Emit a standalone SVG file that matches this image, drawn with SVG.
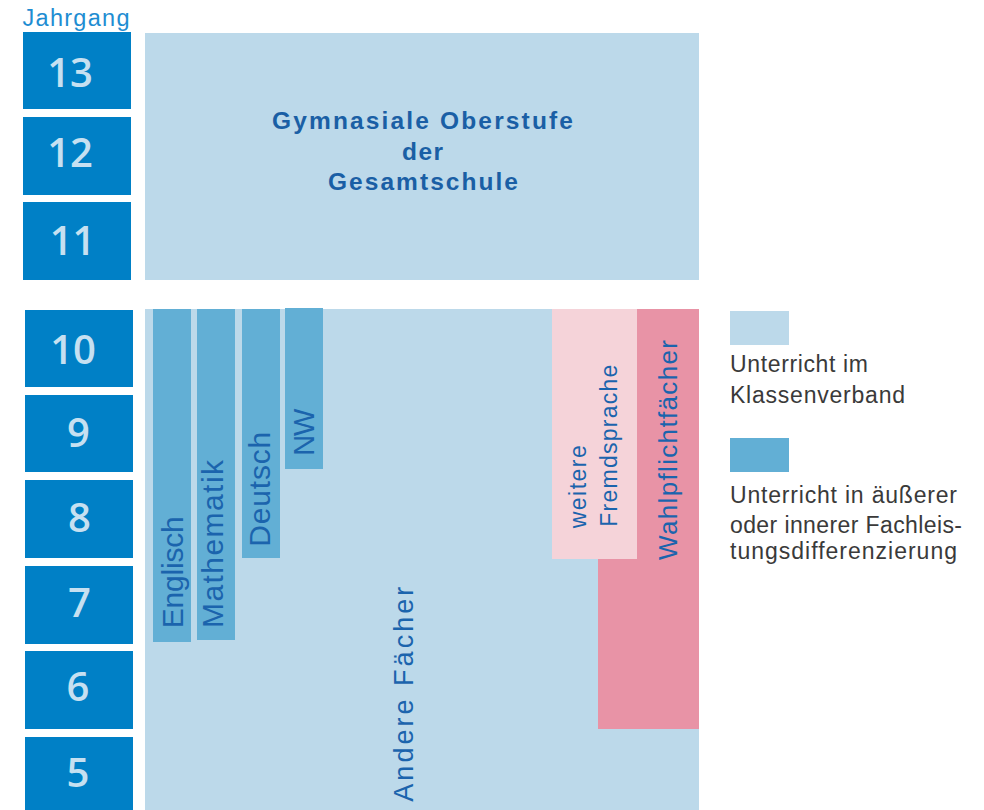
<svg xmlns="http://www.w3.org/2000/svg" width="984" height="810" viewBox="0 0 984 810">
<style>
.yr{fill:#0080c6}
.num{fill:#c6e0f1;font-family:"Open Sans","Liberation Sans",sans-serif;font-size:40px;font-weight:600;text-anchor:middle}
.lb{fill:#bcd9ea}
.mb{fill:#62afd5}
.vt{fill:#1b64ad;font-family:"Liberation Sans","DejaVu Sans",sans-serif}
.title{fill:#1a5fa5;font-family:"Liberation Sans",sans-serif;font-size:24.5px;font-weight:bold;text-anchor:middle}
.leg{fill:#3a3a3a;font-family:"Liberation Sans",sans-serif;font-size:23px}
</style>
<rect width="984" height="810" fill="#ffffff"/>
<text x="22.5" y="26" fill="#1e8dd2" font-family="Liberation Sans, sans-serif" font-size="23.5" textLength="107" lengthAdjust="spacing">Jahrgang</text>

<g id="year-13"><rect class="yr" x="23" y="32" width="108" height="77"/><text class="num" x="70" y="87">13</text></g>
<g id="year-12"><rect class="yr" x="23" y="117" width="108" height="78"/><text class="num" x="70" y="167">12</text></g>
<g id="year-11"><rect class="yr" x="23" y="202" width="108" height="78"/><text class="num" x="72.5" y="255">11</text></g>
<g id="year-10"><rect class="yr" x="25" y="310" width="108" height="77"/><text class="num" x="73" y="364">10</text></g>
<g id="year-9"><rect class="yr" x="25" y="395" width="108" height="77"/><text class="num" x="78.5" y="447">9</text></g>
<g id="year-8"><rect class="yr" x="25" y="480" width="108" height="78"/><text class="num" x="79.5" y="532">8</text></g>
<g id="year-7"><rect class="yr" x="25" y="566" width="108" height="78"/><text class="num" x="79.5" y="617">7</text></g>
<g id="year-6"><rect class="yr" x="25" y="651" width="108" height="78"/><text class="num" x="78" y="701">6</text></g>
<g id="year-5"><rect class="yr" x="25" y="737" width="108" height="73"/><text class="num" x="78" y="787">5</text></g>

<g id="oberstufe">
<rect class="lb" x="145" y="33" width="554" height="247"/>
<text class="title" x="422.5" y="129" textLength="301" lengthAdjust="spacing">Gymnasiale Oberstufe</text>
<text class="title" x="422.5" y="160" textLength="41" lengthAdjust="spacing">der</text>
<text class="title" x="423" y="190" textLength="190" lengthAdjust="spacing">Gesamtschule</text>
</g>

<g id="andere-faecher">
<rect class="lb" x="145" y="309" width="554" height="501"/>
<text class="vt" font-size="27" transform="translate(413,801.7) rotate(-90)" textLength="215" lengthAdjust="spacing">Andere Fächer</text>
</g>

<g id="englisch">
<rect class="mb" x="153" y="309" width="38" height="333"/>
<text class="vt" font-size="30" transform="translate(182.7,628.3) rotate(-90)" textLength="112" lengthAdjust="spacing">Englisch</text>
</g>
<g id="mathematik">
<rect class="mb" x="197" y="309" width="38" height="331"/>
<text class="vt" font-size="30" transform="translate(223,628) rotate(-90)" textLength="168" lengthAdjust="spacing">Mathematik</text>
</g>
<g id="deutsch">
<rect class="mb" x="242" y="309" width="38" height="249"/>
<text class="vt" font-size="30" transform="translate(270,546.7) rotate(-90)" textLength="115" lengthAdjust="spacing">Deutsch</text>
</g>
<g id="nw">
<rect class="mb" x="285" y="308" width="38" height="161"/>
<text class="vt" font-size="29" transform="translate(314,455.7) rotate(-90)" textLength="47" lengthAdjust="spacing">NW</text>
</g>

<g id="wahlpflicht">
<polygon points="637,309 699,309 699,729 598,729 598,559 637,559" fill="#e893a6"/>
<text class="vt" font-size="26" transform="translate(677,560) rotate(-90)" textLength="220" lengthAdjust="spacing">Wahlpflichtfächer</text>
</g>
<g id="fremdsprache">
<rect x="552" y="309" width="85" height="250" fill="#f5d3d9"/>
<text class="vt" font-size="23" transform="translate(586,528.3) rotate(-90)" textLength="83" lengthAdjust="spacing">weitere</text>
<text class="vt" font-size="23" transform="translate(617,526.7) rotate(-90)" textLength="162" lengthAdjust="spacing">Fremdsprache</text>
</g>

<g id="legend-klassenverband">
<rect class="lb" x="730" y="311" width="59" height="34"/>
<text class="leg" x="730" y="372.3" textLength="138" lengthAdjust="spacing">Unterricht im</text>
<text class="leg" x="730" y="403.3" textLength="175" lengthAdjust="spacing">Klassenverband</text>
</g>
<g id="legend-differenzierung">
<rect class="mb" x="730" y="438" width="59" height="34"/>
<text class="leg" x="730" y="503.3" textLength="227" lengthAdjust="spacing">Unterricht in äußerer</text>
<text class="leg" x="730" y="532.7" textLength="232" lengthAdjust="spacing">oder innerer Fachleis-</text>
<text class="leg" x="730" y="559.3" textLength="227" lengthAdjust="spacing">tungsdifferenzierung</text>
</g>
</svg>
